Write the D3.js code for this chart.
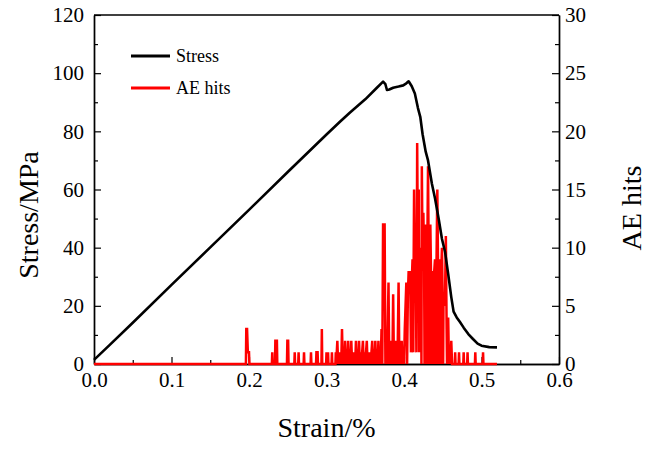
<!DOCTYPE html>
<html>

<head>
  <script src="https://d3js.org/d3.v7.min.js"></script>
  <style>
    body { margin: 0; background: #fff; }
    text { font-family: "Liberation Serif", "Times New Roman", serif; }
  </style>
</head>

<body>
  <svg id="chart" width="651" height="456"></svg>
  <script>
    // stress-strain curve [strain %, stress MPa]
    const stressCurve = [
      [0, 1.4], [0.02, 6.5], [0.05, 14.2], [0.1, 27.2], [0.15, 40.1], [0.2, 53], [0.25, 66],
      [0.3, 78.9], [0.317, 83.2], [0.33, 86.4], [0.35, 91], [0.365, 95], [0.373, 97.1],
      [0.376, 96.2], [0.378, 94.2], [0.381, 94.4], [0.386, 95], [0.393, 95.4], [0.399, 95.8],
      [0.403, 96.5], [0.406, 97.2], [0.410, 95.5], [0.414, 93], [0.418, 88], [0.421, 85],
      [0.424, 79], [0.428, 73], [0.431, 70], [0.436, 62], [0.440, 57], [0.445, 49.5],
      [0.449, 43], [0.453, 38.5], [0.457, 31], [0.461, 23], [0.464, 18], [0.468, 16],
      [0.472, 14.5], [0.477, 12.5], [0.483, 10.3], [0.489, 8.6], [0.495, 7], [0.500, 6.3],
      [0.510, 5.8], [0.520, 5.7]
    ];

    // AE hits [strain %, hits], split into stretches
    const aeEarly = [
      [0, 0], [0.196, 0], [0.1965, 3], [0.1975, 3], [0.1985, 1], [0.2, 1], [0.2005, 0],
      [0.2295, 0], [0.230, 1], [0.2305, 0], [0.2335, 0], [0.234, 2], [0.236, 2], [0.2365, 0],
      [0.249, 0], [0.2495, 2], [0.2505, 2], [0.251, 0],
      [0.2585, 0], [0.259, 1], [0.2595, 0],
      [0.2635, 0], [0.264, 1], [0.2645, 0],
      [0.2705, 0], [0.271, 1], [0.2715, 0],
      [0.2795, 0], [0.280, 1], [0.2805, 0],
      [0.2865, 0], [0.287, 1], [0.2885, 1], [0.289, 0],
      [0.2935, 0], [0.294, 3], [0.2945, 0],
      [0.2995, 0], [0.300, 1], [0.3005, 0], [0.3015, 0], [0.302, 1], [0.3025, 0],
      [0.3065, 0], [0.307, 1], [0.3075, 0],
      [0.3115, 0], [0.312, 1], [0.3125, 0]
    ];
    const aeMid = [
      [0.314, 2], [0.315, 0], [0.316, 1], [0.317, 0], [0.318, 1], [0.319, 0], [0.320, 3],
      [0.321, 0], [0.322, 1], [0.323, 0], [0.324, 2], [0.325, 0], [0.326, 1], [0.327, 0],
      [0.328, 2], [0.329, 0], [0.330, 1], [0.331, 0], [0.332, 2], [0.333, 0], [0.334, 1],
      [0.335, 0], [0.336, 1], [0.337, 0], [0.338, 2], [0.339, 0], [0.340, 1], [0.341, 0],
      [0.342, 2], [0.343, 0], [0.344, 1], [0.345, 0], [0.346, 1], [0.347, 2], [0.348, 0],
      [0.349, 1], [0.350, 0], [0.351, 1], [0.352, 2], [0.353, 0], [0.354, 1], [0.355, 0],
      [0.356, 1], [0.357, 0], [0.358, 1], [0.359, 2], [0.360, 0], [0.361, 1], [0.362, 0],
      [0.363, 2], [0.364, 0], [0.365, 1], [0.366, 0], [0.367, 2], [0.368, 0], [0.369, 1],
      [0.370, 0]
    ];
    const aePeak = [
      [0.371, 3], [0.372, 0], [0.373, 12], [0.375, 12], [0.376, 0], [0.377, 2], [0.378, 0],
      [0.379, 3], [0.380, 7], [0.381, 0], [0.382, 2], [0.383, 0], [0.384, 2], [0.385, 0],
      [0.386, 6], [0.387, 0], [0.388, 2], [0.389, 0], [0.390, 2], [0.391, 0], [0.392, 2],
      [0.393, 7], [0.394, 0], [0.395, 2], [0.396, 0], [0.397, 2], [0.398, 0], [0.399, 1],
      [0.400, 0], [0.401, 3], [0.402, 5], [0.403, 7], [0.404, 0], [0.405, 6], [0.406, 8],
      [0.407, 6], [0.408, 8], [0.409, 1], [0.410, 7], [0.411, 9], [0.412, 1], [0.4125, 9],
      [0.413, 15], [0.414, 8], [0.415, 10], [0.416, 1], [0.4165, 9], [0.417, 19], [0.418, 9],
      [0.419, 15], [0.4195, 1], [0.420, 8], [0.421, 10], [0.422, 9], [0.4225, 0], [0.423, 17],
      [0.424, 9], [0.425, 13], [0.426, 8], [0.4265, 0], [0.427, 9], [0.428, 12], [0.429, 8],
      [0.4295, 0], [0.430, 9], [0.431, 17], [0.432, 8], [0.4325, 0], [0.433, 9], [0.434, 12],
      [0.435, 7], [0.4355, 0], [0.436, 7], [0.437, 8], [0.438, 6], [0.4385, 0], [0.439, 8],
      [0.440, 9], [0.441, 8], [0.4415, 0], [0.442, 9], [0.443, 15], [0.444, 8], [0.4445, 0],
      [0.445, 8], [0.446, 9], [0.447, 6], [0.4475, 0], [0.448, 8], [0.449, 10], [0.450, 5],
      [0.4505, 0], [0.451, 6], [0.452, 5], [0.453, 6], [0.454, 11], [0.455, 3], [0.4555, 0],
      [0.456, 3], [0.457, 4], [0.458, 0], [0.459, 1], [0.460, 0], [0.461, 2], [0.462, 0]
    ];
    const aeTail = [
      [0.4655, 0], [0.466, 1], [0.4665, 0],
      [0.4705, 0], [0.471, 1], [0.4715, 0],
      [0.4765, 0], [0.477, 1], [0.4775, 0],
      [0.4815, 0], [0.482, 1], [0.4825, 0],
      [0.4915, 0], [0.492, 1], [0.4925, 0],
      [0.5015, 0], [0.502, 1], [0.5025, 0],
      [0.520, 0]
    ];

    const strainTicks = [0, 0.1, 0.2, 0.3, 0.4, 0.5, 0.6];
    const strainMinor = [0.05, 0.15, 0.25, 0.35, 0.45, 0.55];
    const stressTicks = [0, 20, 40, 60, 80, 100, 120];
    const stressMinor = [10, 30, 50, 70, 90, 110];
    const hitsTicks = [0, 5, 10, 15, 20, 25, 30];
    const hitsMinor = [2.5, 7.5, 12.5, 17.5, 22.5, 27.5];
    const legendItems = [["Stress", "#000"], ["AE hits", "#ff0000"]];

    let svg = d3.select('svg#chart');
    const margins = { top: 15, right: 92, bottom: 92, left: 94 };
    const width = +svg.attr('width');
    const height = +svg.attr('height');
    const chartWidth = width - margins.left - margins.right;
    const chartHeight = height - margins.top - margins.bottom;

    const xScale = d3.scaleLinear().domain([0, 0.6]).range([0, chartWidth]);
    const yStress = d3.scaleLinear().domain([0, 120]).range([chartHeight, 0]);
    const yHits = d3.scaleLinear().domain([0, 30]).range([chartHeight, 0]);

    let chartArea = svg.append('g')
      .attr('transform', `translate(${margins.left},${margins.top})`);

    // axes, ticks pointing inward
    function styleAxis(g) {
      g.select('.domain').attr('stroke', '#000').attr('stroke-width', 1.4);
      g.selectAll('.tick line').attr('stroke', '#000').attr('stroke-width', 1.2);
      g.selectAll('.tick text')
        .attr('fill', '#000')
        .style('font-size', '21px')
        .style('font-family', '"Liberation Serif", "Times New Roman", serif');
    }

    chartArea.append('g')
      .attr('transform', `translate(0,${chartHeight})`)
      .call(d3.axisBottom(xScale).tickValues(strainTicks).tickSize(-7).tickSizeOuter(0)
        .tickPadding(8).tickFormat(d3.format('.1f')))
      .call(styleAxis);
    chartArea.append('g')
      .attr('transform', `translate(0,${chartHeight})`)
      .call(d3.axisBottom(xScale).tickValues(strainMinor).tickSize(-4).tickSizeOuter(0).tickFormat(''))
      .call(styleAxis);

    chartArea.append('g')
      .call(d3.axisLeft(yStress).tickValues(stressTicks).tickSize(-7).tickSizeOuter(0).tickPadding(10))
      .call(styleAxis);
    chartArea.append('g')
      .call(d3.axisLeft(yStress).tickValues(stressMinor).tickSize(-4).tickSizeOuter(0).tickFormat(''))
      .call(styleAxis);

    chartArea.append('g')
      .attr('transform', `translate(${chartWidth},0)`)
      .call(d3.axisRight(yHits).tickValues(hitsTicks).tickSize(-7).tickSizeOuter(0).tickPadding(6))
      .call(styleAxis);
    chartArea.append('g')
      .attr('transform', `translate(${chartWidth},0)`)
      .call(d3.axisRight(yHits).tickValues(hitsMinor).tickSize(-4).tickSizeOuter(0).tickFormat(''))
      .call(styleAxis);

    // top frame line
    chartArea.append('line')
      .attr('x1', 0).attr('x2', chartWidth)
      .attr('y1', 0).attr('y2', 0)
      .attr('stroke', '#000').attr('stroke-width', 1.4);

    // AE hits line
    const aeLine = d3.line().x(d => xScale(d[0])).y(d => yHits(d[1]));
    chartArea.append('path')
      .datum(aeEarly.concat(aeMid, aePeak, aeTail))
      .attr('d', aeLine)
      .attr('fill', 'none')
      .attr('stroke', '#ff0000')
      .attr('stroke-width', 2.5)
      .attr('stroke-linejoin', 'miter')
      .attr('stroke-miterlimit', 2);

    // stress line
    const stressLine = d3.line().x(d => xScale(d[0])).y(d => yStress(d[1]));
    chartArea.append('path')
      .datum(stressCurve)
      .attr('d', stressLine)
      .attr('fill', 'none')
      .attr('stroke', '#000')
      .attr('stroke-width', 2.6)
      .attr('stroke-linejoin', 'round');

    // legend
    let legend = svg.append('g').attr('transform', 'translate(131,56)');
    legend.selectAll('.legend').data(legendItems)
      .join('g')
      .attr('class', 'legend')
      .attr('transform', (d, i) => `translate(0,${i * 32})`)
      .each(function (d) {
        d3.select(this).append('line')
          .attr('x1', 0).attr('x2', 39).attr('y1', 0).attr('y2', 0)
          .attr('stroke', d[1]).attr('stroke-width', 3);
        d3.select(this).append('text')
          .attr('x', 45).attr('y', 6)
          .style('font-size', '18px')
          .text(d[0]);
      });

    // axis titles
    svg.append('text')
      .attr('x', margins.left + chartWidth / 2)
      .attr('y', 437)
      .style('text-anchor', 'middle')
      .style('font-size', '28px')
      .text('Strain/%');

    svg.append('text')
      .attr('transform', 'translate(38,215) rotate(-90)')
      .style('text-anchor', 'middle')
      .style('font-size', '28px')
      .text('Stress/MPa');

    svg.append('text')
      .attr('transform', 'translate(641,208) rotate(-90)')
      .style('text-anchor', 'middle')
      .style('font-size', '28px')
      .text('AE hits');
  </script>
</body>

</html>
